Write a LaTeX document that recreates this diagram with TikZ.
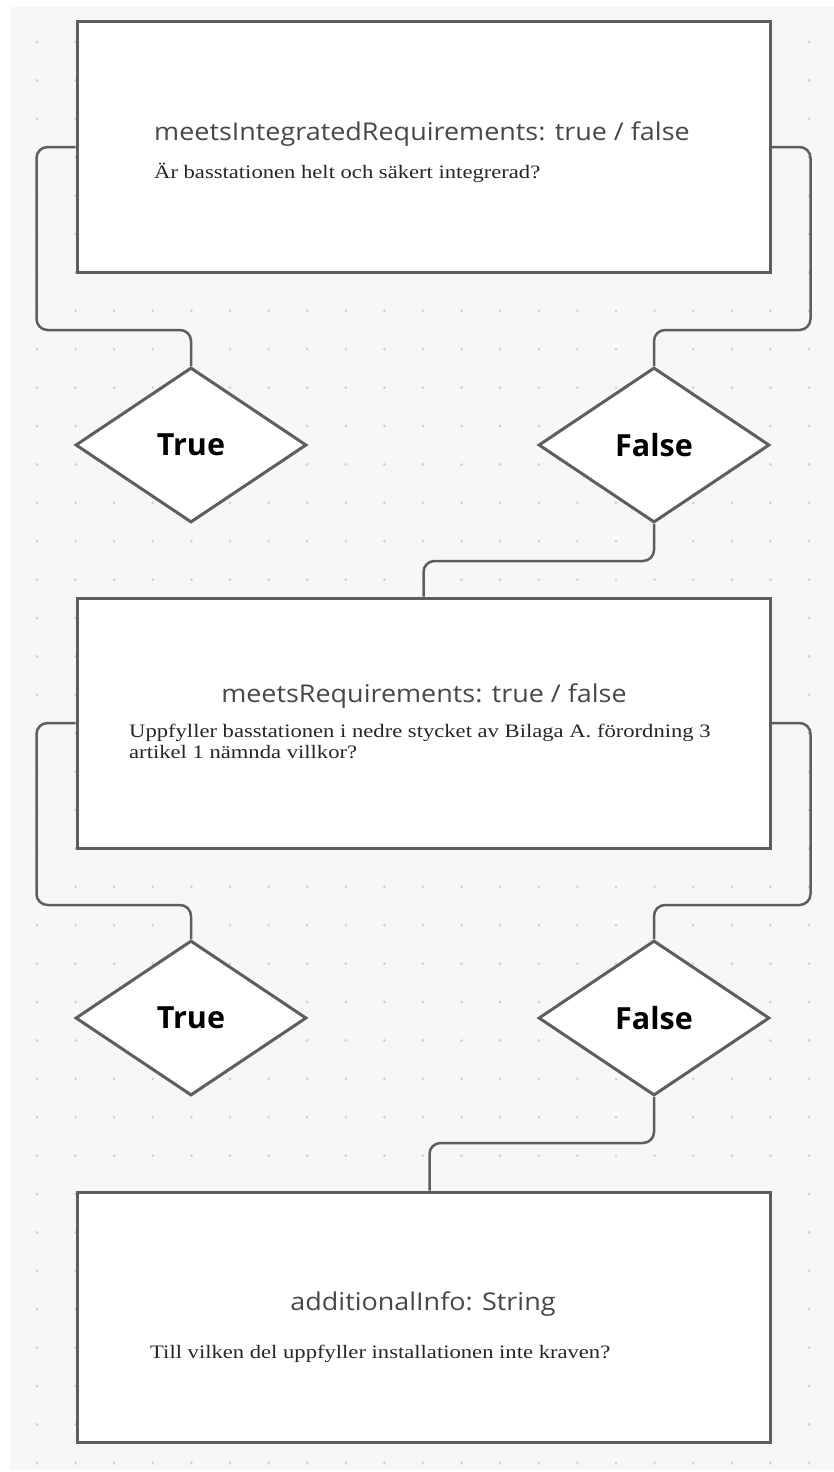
\documentclass[tikz,border=0pt]{standalone}
\usepackage{fontspec}
\setmainfont[FakeStretch=1.19]{Liberation Serif}
\newfontfamily\uifont[FakeStretch=1.1]{Open Sans}
\newfontfamily\uiboldfont{Open Sans}
\usetikzlibrary{shapes.geometric,calc}

\definecolor{canvas}{HTML}{F7F7FA}
\definecolor{edge}{HTML}{5E5E5E}
\definecolor{titlegray}{HTML}{474747}
\definecolor{griddot}{HTML}{CFCFD6}

\tikzset{
  field/.style={draw=edge, line width=3pt, fill=white, minimum width=693pt, minimum height=250pt, inner sep=0pt},
  choice/.style={diamond, aspect=1.5, draw=edge, line width=3pt, fill=white, minimum width=231pt, minimum height=155pt, inner sep=0pt, font=\uiboldfont\bfseries\fontsize{30.5}{34}\selectfont},
  fieldname/.style={font=\uifont\fontsize{24.5}{28}\selectfont, text=titlegray, inner sep=0pt, anchor=base},
  question/.style={font=\fontsize{19}{21}\selectfont, text=black!85, align=left, inner sep=0pt, anchor=base west},
  link/.style={draw=edge, line width=2.5pt, rounded corners=11pt},
}

\begin{document}
\begin{tikzpicture}[x=1pt, y=-1pt]
  \useasboundingbox (0,0) rectangle (834,1472);
  \fill[canvas] (10,7) rectangle (834,1470);
  % dotted grid
  \foreach \i in {0,...,20}
    \foreach \j in {0,...,37}
      \fill[griddot] (37+38.6*\i, 42+38.4*\j) circle (1.5);

  % fields
  \node[field] (q1) at (423.5,147) {};
  \node[field] (q2) at (423.5,723) {};
  \node[field] (q3) at (423.5,1317) {};

  % answers
  \node[choice] (t1) at (191,445) {True};
  \node[choice] (f1) at (654,445) {False};
  \node[choice] (t2) at (191,1018) {True};
  \node[choice] (f2) at (654,1018) {False};

  % texts in the fields
  \node[fieldname] (q1name) at (422,140) {meetsIntegratedRequirements: true / false};
  \node[question] (q1text) at (154,178) {Är basstationen helt och säkert integrerad?};
  \node[fieldname] (q2name) at (424,702) {meetsRequirements: true / false};
  \node[question] (q2text) at (129,758) {Uppfyller basstationen i nedre stycket av Bilaga A. förordning 3\\artikel 1 nämnda villkor?};
  \node[fieldname] (q3name) at (423,1310) {additionalInfo: String};
  \node[question] (q3text) at (150,1358) {Till vilken del uppfyller installationen inte kraven?};

  % connectors
  \draw[link] (q1.west) -- ++(-39,0) -- ++(0,183) -| (t1.north);
  \draw[link] (q1.east) -- ++(39,0) -- ++(0,183) -| (f1.north);
  \draw[link] (f1.south) -- ++(0,37) -| (q2.north);
  \draw[link] (q2.west) -- ++(-39,0) -- ++(0,182) -| (t2.north);
  \draw[link] (q2.east) -- ++(39,0) -- ++(0,182) -| (f2.north);
  \draw[link] (f2.south) -- ++(0,46) -| ($(q3.north)+(6,0)$);
\end{tikzpicture}
\end{document}
